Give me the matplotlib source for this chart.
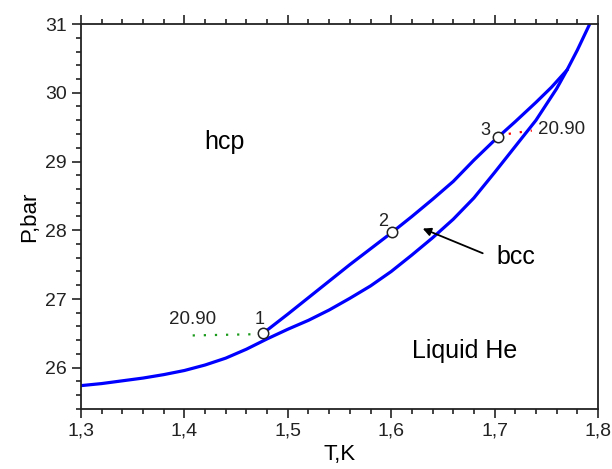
import matplotlib.pyplot as plt
from matplotlib.ticker import MultipleLocator, FormatStrFormatter

plt.rcParams['font.family'] = ['Liberation Sans', 'DejaVu Sans']

# melting curve (liquid boundary)
T_melt = [1.300, 1.320, 1.340, 1.360, 1.380, 1.400, 1.420, 1.440, 1.460,
          1.480, 1.500, 1.520, 1.540, 1.560, 1.580, 1.600, 1.620, 1.640,
          1.660, 1.680, 1.700, 1.720, 1.740, 1.760, 1.770, 1.780, 1.792]
P_melt = [25.74, 25.77, 25.81, 25.85, 25.90, 25.96, 26.04, 26.14, 26.27,
          26.42, 26.56, 26.69, 26.84, 27.01, 27.19, 27.40, 27.64, 27.89,
          28.16, 28.47, 28.84, 29.22, 29.60, 30.06, 30.33, 30.62, 31.00]

# hcp-bcc boundary
T_hb = [1.476, 1.500, 1.520, 1.540, 1.560, 1.580, 1.600, 1.620, 1.640,
        1.660, 1.680, 1.700, 1.720, 1.740, 1.755, 1.770]
P_hb = [26.50, 26.78, 27.02, 27.26, 27.50, 27.73, 27.96, 28.20, 28.45,
        28.71, 29.02, 29.31, 29.58, 29.86, 30.08, 30.33]

# marked points 1, 2, 3
T_pts = [1.476, 1.601, 1.703]
P_pts = [26.50, 27.97, 29.35]
pt_labels = ['1', '2', '3']

# molar volume guide lines (20.90)
T_green = [1.408, 1.476]
P_green = [26.47, 26.49]
T_red = [1.703, 1.736]
P_red = [29.38, 29.45]

fig = plt.figure(figsize=(6.12, 4.69), dpi=100)
ax = fig.add_axes([81/612, 1-409/469, 517/612, 385/469])

ax.plot(T_green, P_green, color='#1a9a1a', ls=(0, (1, 4)), lw=1.6)
ax.plot(T_red, P_red, color='red', ls=(0, (1, 4)), lw=1.6)
ax.plot(T_melt, P_melt, color='#0000ff', lw=2.3)
ax.plot(T_hb, P_hb, color='#0000ff', lw=2.3)
ax.plot(T_pts, P_pts, 'o', ms=7.5, mfc='white', mec='#222222', mew=1.1, zorder=5)

lab_pos = [(1.473, 26.70), (1.592, 28.13), (1.691, 29.45)]
for s, (x, y) in zip(pt_labels, lab_pos):
    ax.text(x, y, s, fontsize=13, ha='center', va='center', color='#222222')
ax.text(1.408, 26.70, '20.90', fontsize=13.5, ha='center', va='center', color='#222222')
ax.text(1.765, 29.46, '20.90', fontsize=13.5, ha='center', va='center', color='#222222')

ax.text(1.439, 29.28, 'hcp', fontsize=18, ha='center', va='center')
ax.text(1.671, 26.25, 'Liquid He', fontsize=18, ha='center', va='center')
ax.text(1.721, 27.61, 'bcc', fontsize=18, ha='center', va='center')
ax.annotate('', xy=(1.628, 28.04), xytext=(1.691, 27.65),
            arrowprops=dict(arrowstyle='-|>', color='black', lw=1.3,
                            mutation_scale=12))

ax.set_xlim(1.3, 1.8)
ax.set_ylim(25.4, 31)
ax.xaxis.set_major_locator(MultipleLocator(0.1))
ax.xaxis.set_minor_locator(MultipleLocator(0.02))
ax.yaxis.set_major_locator(MultipleLocator(1))
ax.yaxis.set_minor_locator(MultipleLocator(0.2))
ax.xaxis.set_major_formatter(lambda v, p: ('%.1f' % v).replace('.', ','))
ax.yaxis.set_major_formatter(FormatStrFormatter('%d'))

ax.tick_params(which='both', direction='out', top=True, right=False,
               labelsize=14, width=1.2, colors='#222222')
ax.tick_params(which='major', length=6.5)
ax.tick_params(which='minor', length=3.5)
for sp in ax.spines.values():
    sp.set_linewidth(1.3)
    sp.set_color('#222222')

ax.set_xlabel('T,K', fontsize=16, labelpad=3)
ax.set_ylabel('P,bar', fontsize=16, labelpad=4)

fig.savefig('out.png', dpi=100)
